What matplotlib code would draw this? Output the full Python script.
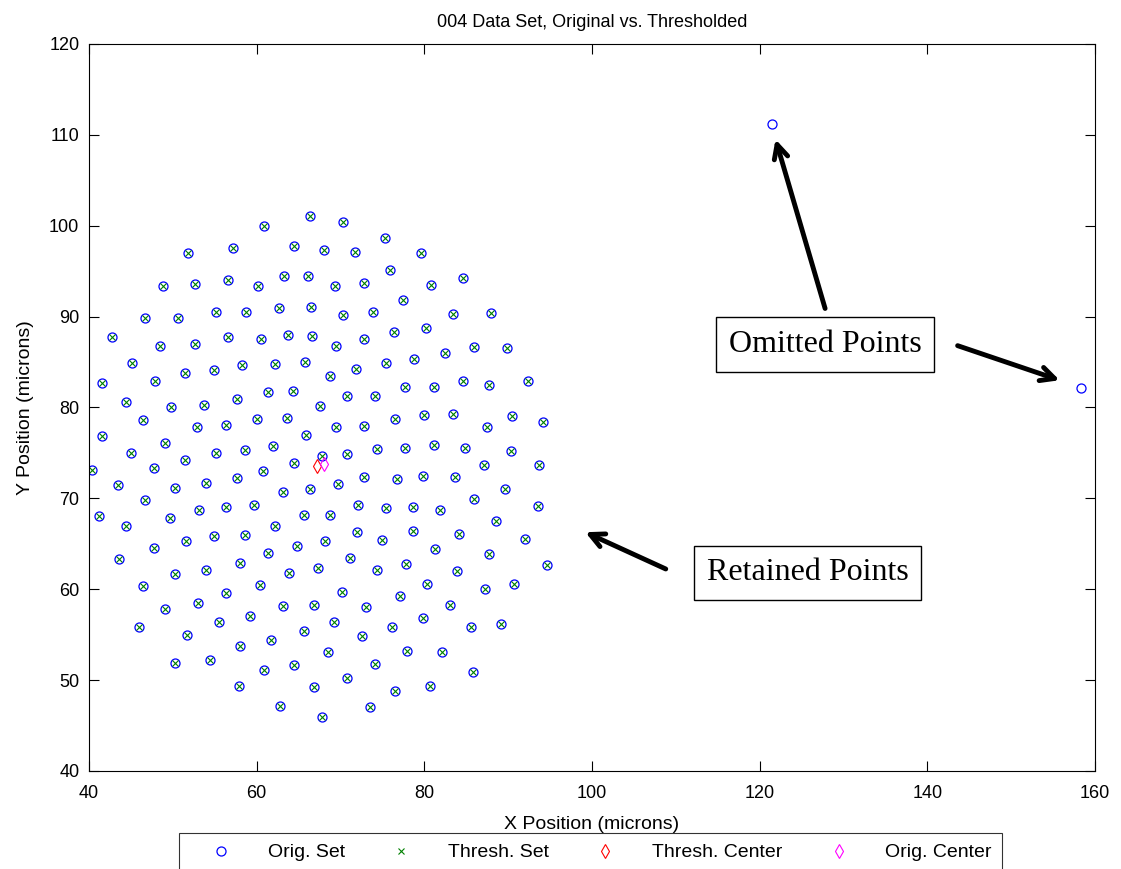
import matplotlib
matplotlib.use("Agg")
import matplotlib.pyplot as plt
from matplotlib.lines import Line2D

plt.rcParams['font.family'] = ['Liberation Sans', 'DejaVu Sans']

# retained (thresholded) points
retained_x = [51.8, 57.2, 48.8, 52.7, 56.6, 46.7, 50.6, 55.1, 60.9, 66.4, 70.3, 75.3, 64.4, 68.0, 71.7, 75.9,
              63.3, 66.1, 60.2, 69.3, 72.8, 58.7, 62.7, 66.5, 70.3, 73.9, 76.4, 79.6, 84.6, 80.8, 77.5, 83.4,
              87.9, 80.2,
              42.7, 48.5, 52.7, 56.6, 45.1, 51.4, 54.9, 58.3, 41.6, 47.9, 44.4, 49.8, 53.7, 57.6, 46.5, 52.9,
              56.4, 41.5, 49.1, 45.0, 55.1, 58.6, 60.5, 63.7, 66.6, 69.5, 72.8, 62.2, 65.8, 68.7, 71.9, 75.4,
              61.4, 64.3, 70.8, 74.1, 67.5, 60.0, 63.6, 69.5, 72.8, 76.5, 65.9, 62.0, 67.8, 70.8, 74.3, 85.9,
              89.9, 82.5, 78.8, 77.7, 81.2, 84.6, 87.7, 92.4, 80.0, 83.4, 90.4, 87.5, 94.2, 77.7, 81.2, 84.9,
              90.3,
              51.5, 40.4, 47.7, 43.4, 50.3, 53.9, 57.6, 46.7, 41.2, 44.4, 49.7, 53.1, 56.4, 47.8, 51.6, 54.9,
              58.6, 43.6, 50.2, 53.9, 58.0, 64.5, 60.8, 69.7, 72.8, 76.7, 63.1, 66.4, 59.7, 72.1, 75.4, 65.6,
              68.8, 62.2, 72.0, 75.0, 64.8, 68.1, 61.3, 71.1, 63.9, 67.3, 74.3, 87.1, 93.7, 79.8, 83.7, 89.6,
              85.9, 78.6, 81.9, 93.6, 88.5, 78.6, 84.1, 92.0, 81.3, 87.7, 77.8, 83.9, 94.6,
              46.4, 56.3, 49.1, 53.0, 46.0, 55.5, 51.7, 58.0, 50.2, 54.4, 57.9, 60.4, 70.2, 63.1, 66.8, 73.1,
              59.2, 69.2, 65.7, 76.1, 72.6, 61.7, 68.5, 64.4, 74.1, 60.9, 70.8, 66.8, 76.5, 62.8, 73.5, 67.8,
              80.3, 90.7, 87.2, 77.1, 83.1, 79.8, 85.6, 89.2, 77.9, 82.1, 85.8, 80.7]
retained_y = [97.0, 97.6, 93.4, 93.6, 94.0, 89.9, 89.9, 90.5, 100.0, 101.1, 100.4, 98.7, 97.8, 97.3, 97.1, 95.1,
              94.5, 94.5, 93.4, 93.4, 93.7, 90.5, 90.9, 91.1, 90.2, 90.5, 88.3, 97.0, 94.2, 93.5, 91.8, 90.3,
              90.4, 88.7,
              87.8, 86.8, 87.0, 87.7, 84.9, 83.8, 84.1, 84.7, 82.7, 82.9, 80.6, 80.0, 80.3, 80.9, 78.6, 77.8,
              78.1, 76.9, 76.1, 75.0, 75.0, 75.3, 87.5, 88.0, 87.9, 86.8, 87.5, 84.8, 85.0, 83.5, 84.2, 84.9,
              81.7, 81.8, 81.3, 81.3, 80.2, 78.7, 78.8, 77.8, 78.0, 78.7, 77.0, 75.8, 74.7, 74.9, 75.4, 86.7,
              86.5, 86.0, 85.3, 82.2, 82.2, 82.9, 82.5, 82.9, 79.2, 79.3, 79.1, 77.9, 78.4, 75.5, 75.9, 75.5,
              75.2,
              74.2, 73.1, 73.3, 71.5, 71.1, 71.7, 72.2, 69.8, 68.1, 67.0, 67.8, 68.7, 69.0, 64.5, 65.3, 65.9,
              66.0, 63.3, 61.7, 62.1, 62.9, 73.9, 73.0, 71.6, 72.4, 72.1, 70.7, 71.0, 69.3, 69.3, 68.9, 68.2,
              68.2, 67.0, 66.3, 65.4, 64.8, 65.3, 64.0, 63.4, 61.8, 62.3, 62.1, 73.7, 73.7, 72.5, 72.3, 71.0,
              69.9, 69.1, 68.7, 69.2, 67.5, 66.4, 66.1, 65.5, 64.4, 63.9, 62.8, 62.0, 62.7,
              60.4, 59.6, 57.8, 58.5, 55.8, 56.4, 55.0, 53.8, 51.9, 52.2, 49.4, 60.5, 59.7, 58.2, 58.3, 58.0,
              57.1, 56.4, 55.4, 55.8, 54.9, 54.4, 53.1, 51.7, 51.8, 51.1, 50.2, 49.2, 48.8, 47.2, 47.0, 45.9,
              60.6, 60.6, 60.0, 59.3, 58.3, 56.8, 55.8, 56.2, 53.2, 53.1, 50.9, 49.4]

# points dropped by the threshold
omitted_x = [121.5, 158.3]
omitted_y = [111.2, 82.1]

orig_x = retained_x + omitted_x
orig_y = retained_y + omitted_y

thresh_center = (67.2, 73.6)
orig_center = (68.0, 73.8)

fig = plt.figure(figsize=(11.21, 8.69), dpi=100)
ax = fig.add_axes([0.0794, 0.1128, 0.8974, 0.8366])

ax.plot(orig_x, orig_y, 'o', ls='none', ms=6.5, mfc='none', mec='blue', mew=0.9)
ax.plot(retained_x, retained_y, 'x', ls='none', ms=4.8, color=(0, 0.5, 0), mew=0.8)
ax.plot([thresh_center[0]], [thresh_center[1]], 'd', ls='none', ms=7, mfc='none', mec='red', mew=0.8)
ax.plot([orig_center[0]], [orig_center[1]], 'd', ls='none', ms=7, mfc='none', mec='magenta', mew=0.8)

ax.set_xlim(40, 160)
ax.set_ylim(40, 120)
ax.set_xticks(range(40, 161, 20))
ax.set_yticks(range(40, 121, 10))
ax.tick_params(direction='in', top=True, right=True, length=7, labelsize=13, width=0.8)
ax.tick_params(axis='x', pad=10)
ax.tick_params(axis='y', pad=7)
for s in ax.spines.values():
    s.set_linewidth(0.8)

ax.set_title('004 Data Set, Original vs. Thresholded', fontsize=13, pad=12)
ax.set_xlabel('X Position (microns)', fontsize=14, labelpad=10)
ax.set_ylabel('Y Position (microns)', fontsize=14, labelpad=11)

# annotation boxes + arrows
box = dict(boxstyle='square,pad=0.4', fc='white', ec='black', lw=1)
ax.text(127.8, 86.9, 'Omitted Points', fontsize=23, family='Liberation Serif',
        ha='center', va='center', bbox=box)
ax.text(125.7, 61.8, 'Retained Points', fontsize=23, family='Liberation Serif',
        ha='center', va='center', bbox=box)
arr = dict(arrowstyle='->,head_length=1.0,head_width=0.5', color='black', lw=3.5)
ax.annotate('', xy=(121.8, 109.8), xytext=(127.9, 90.6), arrowprops=arr)
ax.annotate('', xy=(156.1, 82.9), xytext=(143.3, 86.9), arrowprops=arr)
ax.annotate('', xy=(98.9, 66.4), xytext=(109.1, 62.1), arrowprops=arr)

handles = [
    Line2D([], [], marker='o', ls='none', ms=6.5, mfc='none', mec='blue', mew=0.9),
    Line2D([], [], marker='x', ls='none', ms=4.8, color=(0, 0.5, 0), mew=0.8),
    Line2D([], [], marker='d', ls='none', ms=7, mfc='none', mec='red', mew=0.8),
    Line2D([], [], marker='d', ls='none', ms=7, mfc='none', mec='magenta', mew=0.8),
]
labels = ['Orig. Set', 'Thresh. Set', 'Thresh. Center', 'Orig. Center']
leg = fig.legend(handles, labels, loc='upper center', bbox_to_anchor=(0.527, 0.0414), ncol=4,
                 fontsize=14, frameon=True, fancybox=False, edgecolor='black', handlelength=3.2,
                 handletextpad=0.8, columnspacing=1.3, borderpad=0.55, borderaxespad=0)
leg.get_frame().set_linewidth(0.8)

fig.savefig('out.png', dpi=100)
